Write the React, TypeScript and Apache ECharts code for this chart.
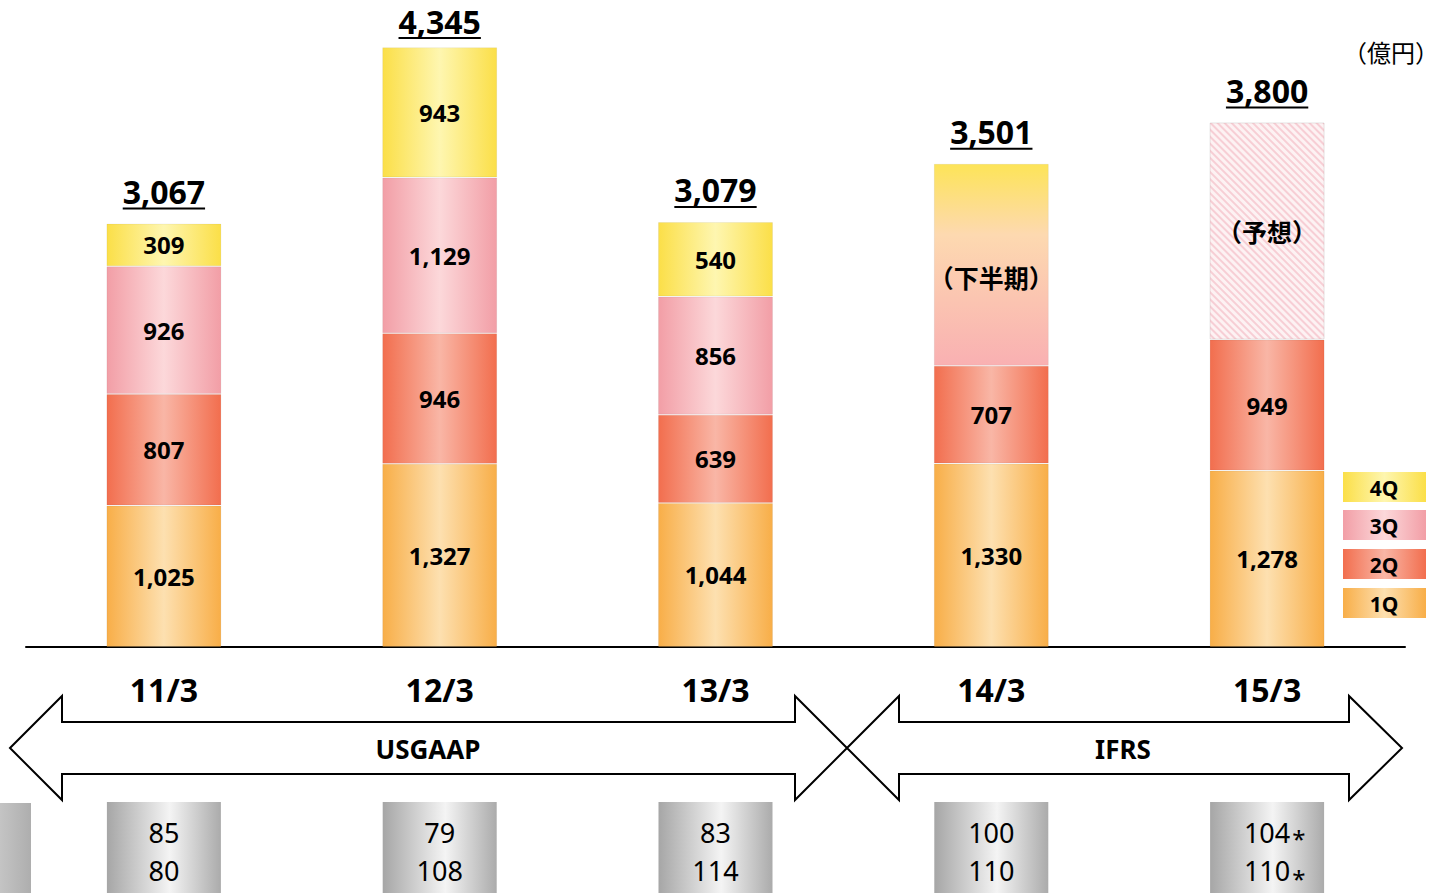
import React, { useEffect, useRef } from "react";
import * as echarts from "echarts";

const categories = ["11/3", "12/3", "13/3", "14/3", "15/3"];
const q1 = [1025, 1327, 1044, 1330, 1278];
const q2 = [807, 946, 639, 707, 949];
const q3 = [926, 1129, 856, null, null];
const q4 = [309, 943, 540, null, null];
const secondHalf = [null, null, null, 1464, null];
const forecast = [null, null, null, null, 1573];
const totals = [3067, 4345, 3079, 3501, 3800];
const usdRates = ["85", "79", "83", "100", "104"];
const eurRates = ["80", "108", "114", "110", "110"];
const rateEstimated = [false, false, false, false, true];
const legendItems = ["4Q", "3Q", "2Q", "1Q"];
const unitLabel = "（億円）";
const secondHalfLabel = "（下半期）";
const forecastLabel = "（予想）";
const standards = ["USGAAP", "IFRS"];

const LATIN = "'Noto Sans', 'Noto Sans CJK JP', sans-serif";
const CJK = "'Noto Sans CJK JP', sans-serif";

let measureCtx: CanvasRenderingContext2D | null = null;
function textWidth(text: string, font: string) {
  if (!measureCtx) measureCtx = document.createElement("canvas").getContext("2d");
  if (!measureCtx) return text.length * 16;
  measureCtx.font = font;
  return measureCtx.measureText(text).width;
}

const hGrad = (edge: string, center: string) =>
  new echarts.graphic.LinearGradient(0, 0, 1, 0, [
    { offset: 0, color: edge },
    { offset: 0.5, color: center },
    { offset: 1, color: edge },
  ]);

const colors: Record<string, [string, string]> = {
  "1Q": ["#F8AE48", "#FDE0B0"],
  "2Q": ["#F26E4E", "#F9B6A6"],
  "3Q": ["#F29EA6", "#FCD8DA"],
  "4Q": ["#FBDF48", "#FEF6B0"],
};

const fmt = (v: any) => (v == null || v === "-" ? "" : Number(v).toLocaleString("en-US"));

export default function App() {
  const ref = useRef<HTMLDivElement>(null);
  useEffect(() => {
    if (!ref.current) return;
    const chart = echarts.init(ref.current, null, { renderer: "svg" });

    const segLabel = {
      show: true,
      position: "inside",
      formatter: (p: any) => fmt(p.value),
      fontFamily: LATIN,
      fontWeight: "bold",
      fontSize: 24,
      color: "#000",
    };

    const barSeries = (name: string, data: any[], color: any, extra: any = {}) => ({
      type: "bar",
      name,
      stack: "total",
      barWidth: 115,
      data,
      itemStyle: { color, borderColor: "rgba(0,0,0,0.05)", borderWidth: 1 },
      label: segLabel,
      ...extra,
    });

    const option: any = {
      animation: false,
      grid: { left: 26, right: 44, top: 12, bottom: 246 },
      xAxis: {
        type: "category",
        data: categories,
        axisLine: { lineStyle: { color: "#000", width: 2 } },
        axisTick: { show: false },
        axisLabel: {
          color: "#000",
          fontFamily: LATIN,
          fontWeight: "bold",
          fontSize: 32,
          margin: 26,
        },
      },
      yAxis: { type: "value", min: 0, max: 4600, show: false },
      series: [
        barSeries("1Q", q1, hGrad(...colors["1Q"])),
        barSeries("2Q", q2, hGrad(...colors["2Q"])),
        barSeries("3Q", q3, hGrad(...colors["3Q"])),
        barSeries("4Q", q4, hGrad(...colors["4Q"])),
        barSeries(
          "下半期",
          secondHalf,
          new echarts.graphic.LinearGradient(0, 0, 0, 1, [
            { offset: 0, color: "#FDE458" },
            { offset: 0.35, color: "#FDD9B0" },
            { offset: 1, color: "#F9B0B2" },
          ]),
          {
            label: {
              ...segLabel,
              formatter: () => secondHalfLabel,
              fontFamily: CJK,
              fontSize: 25,
              offset: [0, 12],
            },
          }
        ),
        barSeries("予想", forecast, "#FDF0F1", {
          itemStyle: {
            color: "#FDF2F3",
            borderColor: "rgba(0,0,0,0.05)",
            borderWidth: 1,
            decal: {
              symbol: "rect",
              symbolSize: 1,
              color: "rgba(242,176,188,0.55)",
              dashArrayX: [1, 0],
              dashArrayY: [1.5, 2.5],
              rotation: Math.PI / 4,
            },
          },
          label: {
            ...segLabel,
            formatter: () => forecastLabel,
            fontFamily: CJK,
            fontSize: 25,
          },
        }),
        {
          type: "custom",
          name: "合計",
          z: 10,
          clip: false,
          data: totals.map((t, i) => [i, t]),
          renderItem: (params: any, api: any) => {
            const idx = api.value(0);
            const total = api.value(1);
            const pt = api.coord([idx, total]);
            const text = fmt(total);
            const w = textWidth(text, `bold 32px ${LATIN}`);
            const cy = Math.max(pt[1] - 32, 21);
            return {
              type: "group",
              children: [
                {
                  type: "text",
                  x: pt[0],
                  y: cy,
                  style: {
                    text,
                    fontFamily: LATIN,
                    fontWeight: "bold",
                    fontSize: 32,
                    fill: "#000",
                    align: "center",
                    verticalAlign: "middle",
                  },
                },
                {
                  type: "line",
                  shape: { x1: pt[0] - w / 2, y1: cy + 17, x2: pt[0] + w / 2, y2: cy + 17 },
                  style: { stroke: "#000", lineWidth: 2 },
                },
              ],
            };
          },
        },
        {
          type: "custom",
          name: "為替レート",
          z: 10,
          clip: false,
          data: usdRates.map((u, i) => [i, 0]),
          renderItem: (params: any, api: any) => {
            const idx = api.value(0);
            const x = api.coord([idx, 0])[0];
            const usd = usdRates[idx];
            const eur = eurRates[idx];
            const est = rateEstimated[idx];
            const numStyle = {
              fontFamily: LATIN,
              fontSize: 27,
              fill: "#000",
              align: "center",
              verticalAlign: "middle",
            };
            const children: any[] = [
              {
                type: "rect",
                shape: { x: x - 57, y: 802, width: 114, height: 100 },
                style: {
                  fill: new echarts.graphic.LinearGradient(0, 0, 1, 0, [
                    { offset: 0, color: "#A6A6A6" },
                    { offset: 0.55, color: "#F4F4F4" },
                    { offset: 1, color: "#ABABAB" },
                  ]),
                },
              },
              { type: "text", x, y: 832, style: { text: usd, ...numStyle } },
              { type: "text", x, y: 870, style: { text: eur, ...numStyle } },
            ];
            if (est) {
              const w1 = textWidth(usd, `27px ${LATIN}`);
              const w2 = textWidth(eur, `27px ${LATIN}`);
              const star = { text: "*", fontFamily: LATIN, fontSize: 24, fill: "#000", align: "left", verticalAlign: "middle" };
              children.push(
                { type: "text", x: x + w1 / 2 + 2, y: 838, style: star },
                { type: "text", x: x + w2 / 2 + 2, y: 878, style: star }
              );
            }
            return { type: "group", children };
          },
        },
      ],
      graphic: [
        {
          type: "text",
          right: 10,
          top: 39,
          style: { text: unitLabel, fontFamily: CJK, fontSize: 24, fill: "#000" },
        },
        // USGAAP arrow
        {
          type: "polygon",
          shape: {
            points: [
              [10, 748], [62, 696], [62, 722], [795, 722], [795, 696], [847, 748],
              [795, 800], [795, 774], [62, 774], [62, 800],
            ],
          },
          style: { fill: "#fff", stroke: "#000", lineWidth: 2 },
          z: 1,
        },
        // IFRS arrow
        {
          type: "polygon",
          shape: {
            points: [
              [847, 748], [899, 696], [899, 722], [1349, 722], [1349, 696], [1402, 748],
              [1349, 800], [1349, 774], [899, 774], [899, 800],
            ],
          },
          style: { fill: "#fff", stroke: "#000", lineWidth: 2 },
          z: 1,
        },
        {
          type: "text",
          x: 428,
          y: 749,
          style: { text: standards[0], fontFamily: LATIN, fontWeight: "bold", fontSize: 26, fill: "#000", align: "center", verticalAlign: "middle" },
          z: 2,
        },
        {
          type: "text",
          x: 1123,
          y: 749,
          style: { text: standards[1], fontFamily: LATIN, fontWeight: "bold", fontSize: 26, fill: "#000", align: "center", verticalAlign: "middle" },
          z: 2,
        },
        // partial rate box at left edge
        {
          type: "rect",
          shape: { x: 0, y: 803, width: 31, height: 90 },
          style: {
            fill: new echarts.graphic.LinearGradient(0, 0, 1, 0, [
              { offset: 0, color: "#C4C4C4" },
              { offset: 1, color: "#AEAEAE" },
            ]),
          },
        },
        // legend
        ...legendItems.map((name, i) => {
          const ys = [472, 510, 549, 588];
          return {
            type: "group",
            children: [
              {
                type: "rect",
                shape: { x: 1343, y: ys[i], width: 83, height: 30 },
                style: { fill: hGrad(...colors[name]) },
              },
              {
                type: "text",
                x: 1384,
                y: ys[i] + 16,
                style: { text: name, fontFamily: LATIN, fontWeight: "bold", fontSize: 21, fill: "#000", align: "center", verticalAlign: "middle" },
              },
            ],
          };
        }),
      ],
    };

    chart.setOption(option);
    return () => chart.dispose();
  }, []);

  return (
    <div
      ref={ref}
      style={{ position: "fixed", left: 0, top: 0, width: 1449, height: 893, background: "#fff" }}
    />
  );
}
